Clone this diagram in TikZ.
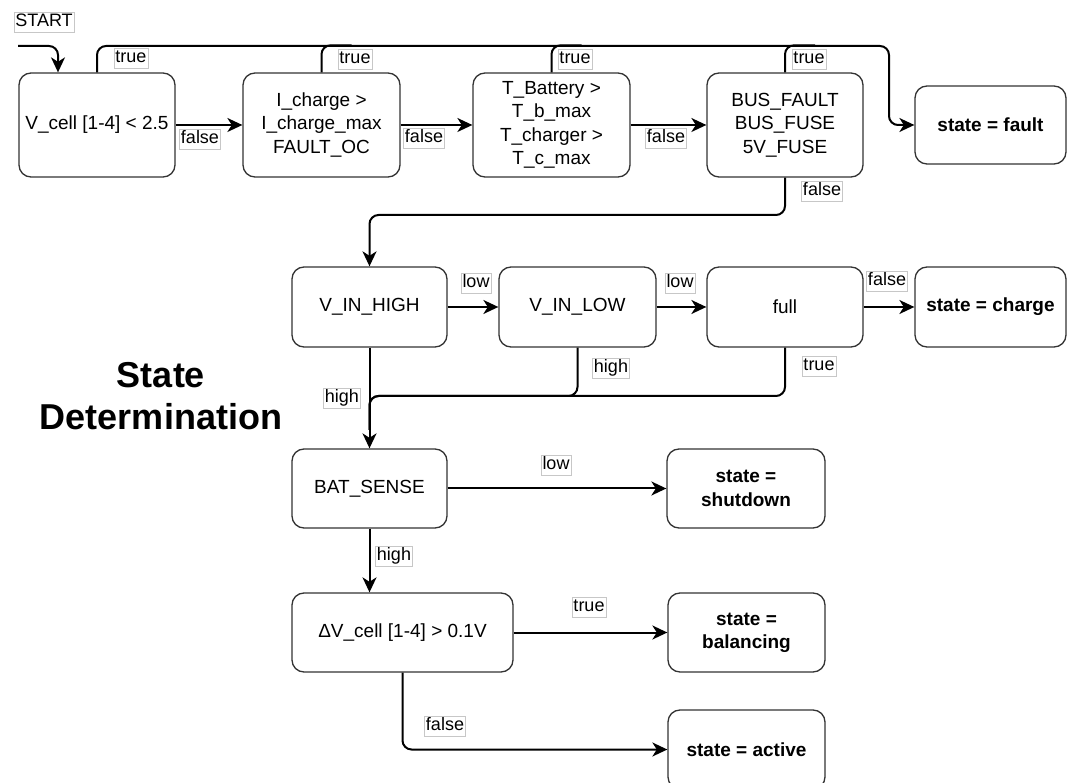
\documentclass[tikz,border=0pt]{standalone}
\usepackage{fontspec}
\setmainfont{Liberation Sans}
\usetikzlibrary{arrows.meta}

\newcommand{\boxfont}{\fontsize{19}{23.3}\selectfont}
\newcommand{\lblfont}{\fontsize{18}{20}\selectfont}
\newcommand{\titlefont}{\fontsize{36}{42}\selectfont\bfseries}

\tikzset{
  box/.style={draw=black!80, line width=1.3pt, rounded corners=12pt, fill=white,
              align=center, inner sep=0pt, font=\boxfont},
  endbox/.style={box, font=\boxfont\bfseries},
  lbl/.style={draw=black!22, line width=0.6pt, fill=white, inner sep=1.3pt,
              text height=13.5pt, text depth=4pt, font=\lblfont},
  conn/.style={line width=2pt, rounded corners=9pt},
  arr/.style={conn, -{Stealth[length=15pt, width=14pt, inset=4.5pt]}},
}

\begin{document}
\begin{tikzpicture}[x=1pt, y=-1pt]
\useasboundingbox (0,0) rectangle (1069,783);

% ---- fault checks (top row) ----
\node[box, minimum width=156pt, minimum height=104pt] (vcell)   at (97,125)    {V\_cell [1-4] < 2.5};
\node[box, minimum width=157pt, minimum height=104pt] (icharge) at (321.5,125) {I\_charge >\\I\_charge\_max\\FAULT\_OC};
\node[box, minimum width=157pt, minimum height=104pt] (tbat)    at (551.5,125) {T\_Battery >\\T\_b\_max\\T\_charger >\\T\_c\_max};
\node[box, minimum width=156pt, minimum height=104pt] (bus)     at (785,125)   {BUS\_FAULT\\BUS\_FUSE\\5V\_FUSE};
\node[endbox, minimum width=151pt, minimum height=78pt] (fault) at (990.5,125) {state = fault};

% ---- input voltage checks (second row) ----
\node[box, minimum width=155pt, minimum height=80pt] (vhigh)  at (369.5,307) {V\_IN\_HIGH};
\node[box, minimum width=157pt, minimum height=80pt] (vlow)   at (577.5,307) {V\_IN\_LOW};
\node[box, minimum width=156pt, minimum height=80pt] (full)   at (785,307)   {full};
\node[endbox, minimum width=151pt, minimum height=80pt] (charge) at (990.5,307) {state = charge};

% ---- battery and balancing ----
\node[box, minimum width=155pt, minimum height=79pt] (bat) at (369.5,488.5) {BAT\_SENSE};
\node[endbox, minimum width=158pt, minimum height=79pt] (shutdown) at (746,488.5) {state =\\shutdown};
\node[box, minimum width=221pt, minimum height=79pt] (dv) at (402.5,632.5) {ΔV\_cell [1-4] > 0.1V};
\node[endbox, minimum width=157pt, minimum height=79pt] (balancing) at (746.5,632.5) {state =\\balancing};
\node[endbox, minimum width=157pt, minimum height=79pt] (active) at (746.5,749.5) {state = active};

% ---- title ----
\node[font=\titlefont, align=center, inner sep=0pt] (title) at (161,396) {State\\Determination};

% ---- start ----
\node[lbl] (start) at (44,22) {START};
\coordinate (s0) at (18,46);
\draw[arr] (s0) -| ([xshift=-39pt]vcell.north);

% ---- true branches to fault ----
\coordinate (tr) at (889,46);
\draw[arr] (vcell.north) |- (tr) |- (fault.west);
\draw[conn] (icharge.north) -- ++(0,-27) -- ++(30,0);
\draw[conn] (tbat.north) -- ++(0,-27) -- ++(30,0);
\draw[conn] (bus.north) -- ++(0,-27) -- ++(30,0);
\node[lbl] (t1) at (131,58) {true};
\node[lbl] (t2) at (355,59) {true};
\node[lbl] (t3) at (575,59) {true};
\node[lbl] (t4) at (809,59) {true};

% ---- false chain along the top row ----
\draw[arr] (vcell.east) -- (icharge.west);
\draw[arr] (icharge.east) -- (tbat.west);
\draw[arr] (tbat.east) -- (bus.west);
\node[lbl] (f1) at (200,139) {false};
\node[lbl] (f2) at (424,138) {false};
\node[lbl] (f3) at (666,138) {false};

\coordinate (fy) at (785,215);
\draw[arr] (bus.south) -- (fy) -| (vhigh.north);
\node[lbl] (f4) at (822,191) {false};

% ---- second row ----
\draw[arr] (vhigh.east) -- (vlow.west);
\draw[arr] (vlow.east) -- (full.west);
\draw[arr] (full.east) -- (charge.west);
\node[lbl] (l1) at (476,283) {low};
\node[lbl] (l2) at (680,283) {low};
\node[lbl] (f5) at (887,281) {false};

\coordinate (hj) at (369.5,396);
\coordinate (hd) at (369.5,430);
\draw[conn] (vlow.south) |- (hj) -- (hd);
\draw[conn] (full.south) |- (hj) -- (hd);
\draw[arr] (vhigh.south) -- (bat.north);
\node[lbl] (h1) at (611,368) {high};
\node[lbl] (t5) at (819,366) {true};
\node[lbl] (h2) at (342,398) {high};

% ---- battery sense ----
\draw[arr] (bat.east) -- (shutdown.west);
\node[lbl] (l3) at (556,465) {low};
\draw[arr] (bat.south) -- (bat.south |- dv.north);
\node[lbl] (h3) at (394,556) {high};

% ---- balancing ----
\draw[arr] (dv.east) -- (balancing.west);
\node[lbl] (t6) at (589,607) {true};
\draw[arr] (dv.south) |- (active.west);
\node[lbl] (f6) at (445,726) {false};
\end{tikzpicture}
\end{document}
